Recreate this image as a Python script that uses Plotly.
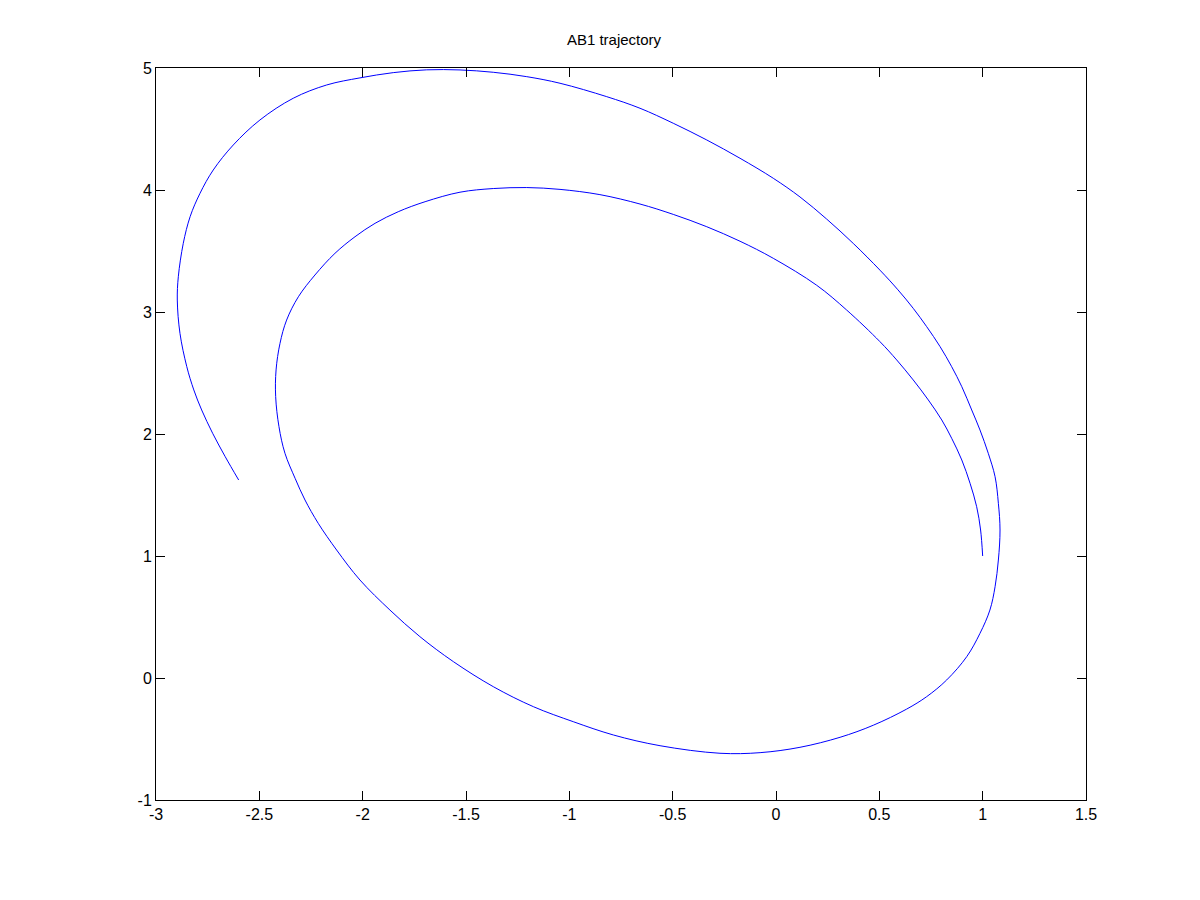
import plotly.graph_objects as go

# Trajectory points (data units), in drawing order
x_vals = [1.000, 0.990, 0.971, 0.939, 0.899, 0.850, 0.802, 0.737, 0.664, 0.584,
          0.503, 0.342, 0.197, -0.013, -0.174, -0.335, -0.497, -0.658, -0.852, -1.045,
          -1.206, -1.368, -1.529, -1.698, -1.828, -1.940, -2.037, -2.134, -2.231, -2.311,
          -2.368, -2.400, -2.419, -2.421, -2.405, -2.376, -2.327, -2.279, -2.215, -2.126,
          -2.013, -1.868, -1.723, -1.561, -1.368, -1.174, -0.981, -0.787, -0.561, -0.271,
          -0.077, 0.116, 0.310, 0.471, 0.632, 0.729, 0.826, 0.923, 0.987, 1.035,
          1.060, 1.076, 1.084, 1.076, 1.060, 1.027, 0.987, 0.947, 0.899, 0.850,
          0.794, 0.729, 0.664, 0.590, 0.503, 0.374, 0.245, 0.116, -0.013, -0.174,
          -0.335, -0.497, -0.658, -0.819, -1.045, -1.206, -1.368, -1.529, -1.690, -1.852,
          -2.013, -2.174, -2.336, -2.497, -2.626, -2.723, -2.787, -2.835, -2.868, -2.892,
          -2.897, -2.884, -2.851, -2.817, -2.779, -2.726, -2.665, -2.600]
y_vals = [1.000, 1.213, 1.404, 1.596, 1.787, 1.965, 2.115, 2.279, 2.443, 2.607,
          2.757, 3.016, 3.219, 3.440, 3.580, 3.699, 3.800, 3.885, 3.962, 4.005,
          4.020, 4.012, 3.982, 3.904, 3.822, 3.727, 3.617, 3.481, 3.303, 3.125,
          2.934, 2.743, 2.525, 2.306, 2.060, 1.842, 1.637, 1.459, 1.268, 1.049,
          0.803, 0.557, 0.339, 0.134, -0.071, -0.235, -0.358, -0.467, -0.555, -0.617,
          -0.612, -0.568, -0.486, -0.387, -0.255, -0.153, -0.016, 0.175, 0.366, 0.557,
          0.748, 0.967, 1.213, 1.432, 1.650, 1.842, 2.033, 2.197, 2.388, 2.552,
          2.716, 2.880, 3.030, 3.182, 3.343, 3.562, 3.762, 3.943, 4.096, 4.260,
          4.410, 4.547, 4.670, 4.765, 4.875, 4.929, 4.965, 4.984, 4.985, 4.962,
          4.919, 4.861, 4.752, 4.574, 4.369, 4.164, 3.973, 3.781, 3.563, 3.289,
          3.098, 2.825, 2.552, 2.361, 2.197, 2.006, 1.814, 1.623]

x_ticks = [-3, -2.5, -2, -1.5, -1, -0.5, 0, 0.5, 1, 1.5]
x_tick_labels = ["-3", "-2.5", "-2", "-1.5", "-1", "-0.5", "0", "0.5", "1", "1.5"]
y_ticks = [-1, 0, 1, 2, 3, 4, 5]
y_tick_labels = ["-1", "0", "1", "2", "3", "4", "5"]
title_text = "AB1 trajectory"

fig = go.Figure()
fig.add_trace(go.Scatter(
    x=x_vals, y=y_vals, mode="lines",
    line=dict(color="rgb(0,0,255)", width=1, shape="spline", smoothing=1.0),
    showlegend=False, hoverinfo="skip",
))

axis_common = dict(
    showgrid=False, zeroline=False, showline=True, linecolor="black", linewidth=1,
    mirror="allticks", ticks="inside", ticklen=9, tickwidth=1, tickcolor="black",
    tickfont=dict(family="Liberation Sans, Arial, sans-serif", size=16, color="black"),
)

fig.update_layout(
    width=1200, height=900,
    margin=dict(l=148, r=122, t=60, b=108),
    paper_bgcolor="white", plot_bgcolor="white",
    title=dict(text=title_text, x=0.505, xanchor="center", y=0.965, yanchor="middle",
               yref="container",
               font=dict(family="Liberation Sans, Arial, sans-serif", size=15, color="black")),
    xaxis=dict(range=[-3, 1.5], tickvals=x_ticks, ticktext=x_tick_labels, **axis_common),
    yaxis=dict(range=[-1, 5], tickvals=y_ticks, ticktext=y_tick_labels, **axis_common),
)

fig.write_html("out.html")
